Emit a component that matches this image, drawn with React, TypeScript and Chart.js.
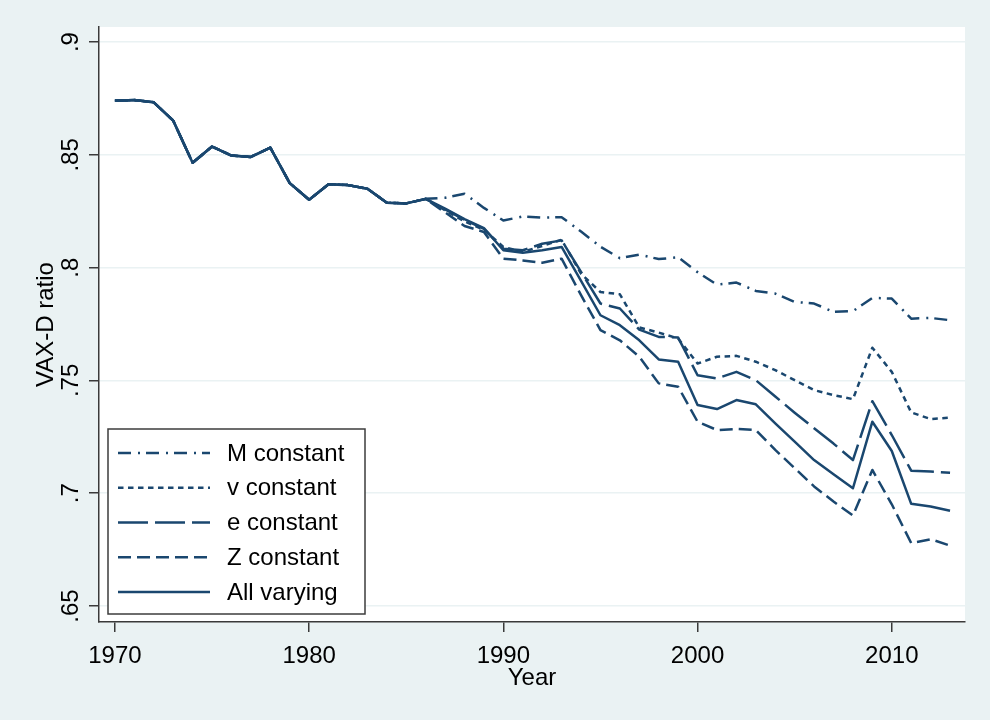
import React, { useEffect, useRef } from 'react';
import { Chart, registerables } from 'chart.js';

Chart.register(...registerables);

const years = [
  1970, 1971, 1972, 1973, 1974, 1975, 1976, 1977, 1978, 1979,
  1980, 1981, 1982, 1983, 1984, 1985, 1986, 1987, 1988, 1989,
  1990, 1991, 1992, 1993, 1994, 1995, 1996, 1997, 1998, 1999,
  2000, 2001, 2002, 2003, 2004, 2005, 2006, 2007, 2008, 2009,
  2010, 2011, 2012, 2013,
];

// 1970-1986: all scenarios coincide
const sharedValues = [
  0.8740, 0.8743, 0.8733, 0.8652, 0.8465, 0.8537, 0.8497, 0.8491, 0.8532, 0.8375,
  0.8301, 0.8370, 0.8366, 0.8350, 0.8288, 0.8285, 0.8305,
];

// 1987-2013 for each scenario
const mConstant = [
  0.8310, 0.8328, 0.8265, 0.8209, 0.8227, 0.8222, 0.8224, 0.8160, 0.8093, 0.8042,
  0.8058, 0.8038, 0.8046, 0.7980, 0.7925, 0.7934, 0.7897, 0.7885, 0.7848, 0.7841,
  0.7804, 0.7807, 0.7866, 0.7863, 0.7774, 0.7777, 0.7767,
];
const vConstant = [
  0.8255, 0.8205, 0.8168, 0.8092, 0.8070, 0.8096, 0.8124, 0.7973, 0.7892, 0.7882,
  0.7735, 0.7712, 0.7686, 0.7575, 0.7605, 0.7609, 0.7583, 0.7546, 0.7501, 0.7457,
  0.7435, 0.7417, 0.7645, 0.7538, 0.7358, 0.7329, 0.7335,
];
const eConstant = [
  0.8258, 0.8212, 0.8172, 0.8084, 0.8077, 0.8106, 0.8121, 0.7981, 0.7841, 0.7819,
  0.7725, 0.7693, 0.7690, 0.7523, 0.7509, 0.7538, 0.7501, 0.7429, 0.7357, 0.7288,
  0.7220, 0.7147, 0.7408, 0.7258, 0.7100, 0.7096, 0.7091,
];
const zConstant = [
  0.8245, 0.8185, 0.8158, 0.8040, 0.8032, 0.8022, 0.8040, 0.7878, 0.7723, 0.7678,
  0.7605, 0.7487, 0.7472, 0.7317, 0.7280, 0.7285, 0.7280, 0.7192, 0.7111, 0.7030,
  0.6963, 0.6901, 0.7103, 0.6951, 0.6779, 0.6796, 0.6768,
];
const allVarying = [
  0.8262, 0.8215, 0.8175, 0.8077, 0.8066, 0.8077, 0.8092, 0.7941, 0.7789, 0.7745,
  0.7678, 0.7593, 0.7583, 0.7391, 0.7373, 0.7413, 0.7394, 0.7310, 0.7229, 0.7147,
  0.7084, 0.7022, 0.7317, 0.7187, 0.6953, 0.6941, 0.6922,
];

const seriesLabels = ['M constant', 'v constant', 'e constant', 'Z constant', 'All varying'];
const seriesTails = [mConstant, vConstant, eConstant, zConstant, allVarying];
const seriesDashes = [[13, 7, 2, 6], [5.5, 4.5], [30, 7], [13, 6], []];

const xTickValues = [1970, 1980, 1990, 2000, 2010];
const yTickValues = [0.65, 0.7, 0.75, 0.8, 0.85, 0.9];
const yTickLabels = ['.65', '.7', '.75', '.8', '.85', '.9'];

const LINE_COLOR = '#1a476f';
const BG = '#eaf2f3';
const AXIS = '#3a3a3a';
const FONT_FAMILY = '"Liberation Sans", Arial, sans-serif';

const bgPlugin = {
  id: 'stataBg',
  beforeDraw(chart: any) {
    const { ctx, chartArea, width, height } = chart;
    ctx.save();
    ctx.fillStyle = BG;
    ctx.fillRect(0, 0, width, height);
    ctx.fillStyle = '#ffffff';
    ctx.fillRect(chartArea.left, chartArea.top, chartArea.right - chartArea.left, chartArea.bottom - chartArea.top);
    ctx.restore();
  },
};

const legendPlugin = {
  id: 'boxLegend',
  afterDraw(chart: any) {
    const { ctx, chartArea } = chart;
    const w = 257;
    const h = 185;
    const x0 = chartArea.left + 9;
    const y0 = chartArea.bottom - 8 - h;
    ctx.save();
    ctx.fillStyle = '#ffffff';
    ctx.fillRect(x0, y0, w, h);
    ctx.strokeStyle = '#3c3c3c';
    ctx.lineWidth = 1.5;
    ctx.setLineDash([]);
    ctx.strokeRect(x0, y0, w, h);
    chart.data.datasets.forEach((ds: any, i: number) => {
      const cy = y0 + 24 + i * 34.75;
      ctx.beginPath();
      ctx.setLineDash(ds.borderDash || []);
      ctx.strokeStyle = ds.borderColor;
      ctx.lineWidth = ds.borderWidth;
      ctx.moveTo(x0 + 10, cy);
      ctx.lineTo(x0 + 102, cy);
      ctx.stroke();
      ctx.setLineDash([]);
      ctx.fillStyle = '#000000';
      ctx.font = `24px ${FONT_FAMILY}`;
      ctx.textBaseline = 'middle';
      ctx.textAlign = 'left';
      ctx.fillText(ds.label, x0 + 119, cy + 1);
    });
    ctx.restore();
  },
};

export default function App() {
  const canvasRef = useRef<HTMLCanvasElement | null>(null);

  useEffect(() => {
    if (!canvasRef.current) return;
    const datasets = seriesLabels.map((label, s) => {
      const values = sharedValues.concat(seriesTails[s]);
      return {
        label,
        data: years.map((yr, i) => ({ x: yr, y: values[i] })),
        borderColor: LINE_COLOR,
        backgroundColor: LINE_COLOR,
        borderWidth: 2.5,
        borderDash: seriesDashes[s],
        borderCapStyle: 'butt' as const,
        borderJoinStyle: 'round' as const,
        pointRadius: 0,
        tension: 0,
        fill: false,
      };
    });

    const chart = new Chart(canvasRef.current, {
      type: 'line',
      data: { datasets },
      plugins: [bgPlugin, legendPlugin],
      options: {
        animation: false,
        responsive: false,
        devicePixelRatio: 1,
        layout: { padding: { top: 27, right: 25, left: 0, bottom: 0 } },
        plugins: {
          legend: { display: false },
          tooltip: { enabled: false },
        },
        scales: {
          x: {
            type: 'linear',
            min: 1969.18,
            max: 2013.77,
            afterBuildTicks: (scale: any) => {
              scale.ticks = xTickValues.map((v) => ({ value: v }));
            },
            afterFit: (scale: any) => {
              scale.height = 98;
            },
            ticks: {
              autoSkip: false,
              maxRotation: 0,
              minRotation: 0,
              padding: 10,
              color: '#000',
              font: { family: FONT_FAMILY, size: 24 },
              callback: (v: any) => String(v),
            },
            grid: {
              drawOnChartArea: false,
              drawTicks: true,
              tickLength: 10,
              tickColor: AXIS,
              lineWidth: 1.5,
            },
            border: { display: true, color: AXIS, width: 1.5 },
            title: {
              display: true,
              text: 'Year',
              color: '#000',
              font: { family: FONT_FAMILY, size: 24 },
              padding: { top: 0, bottom: 27 },
            },
          },
          y: {
            type: 'linear',
            min: 0.6429,
            max: 0.9067,
            afterBuildTicks: (scale: any) => {
              scale.ticks = yTickValues.map((v) => ({ value: v }));
            },
            afterFit: (scale: any) => {
              scale.width = 99;
            },
            ticks: {
              autoSkip: false,
              minRotation: 90,
              maxRotation: 90,
              crossAlign: 'center',
              padding: 1,
              color: '#000',
              font: { family: FONT_FAMILY, size: 24 },
              callback: (_v: any, i: number) => yTickLabels[i],
            },
            grid: {
              drawOnChartArea: true,
              drawTicks: true,
              tickLength: 10,
              color: BG,
              tickColor: AXIS,
              lineWidth: 1.5,
            },
            border: { display: true, color: AXIS, width: 1.5 },
            title: {
              display: true,
              text: 'VAX-D ratio',
              color: '#000',
              font: { family: FONT_FAMILY, size: 24 },
              padding: { top: 32, bottom: 0 },
            },
          },
        },
      },
    } as any);

    return () => chart.destroy();
  }, []);

  return (
    <div style={{ position: 'absolute', left: 0, top: 0, width: 990, height: 720 }}>
      <canvas ref={canvasRef} width={990} height={720} style={{ display: 'block', width: 990, height: 720 }} />
    </div>
  );
}
